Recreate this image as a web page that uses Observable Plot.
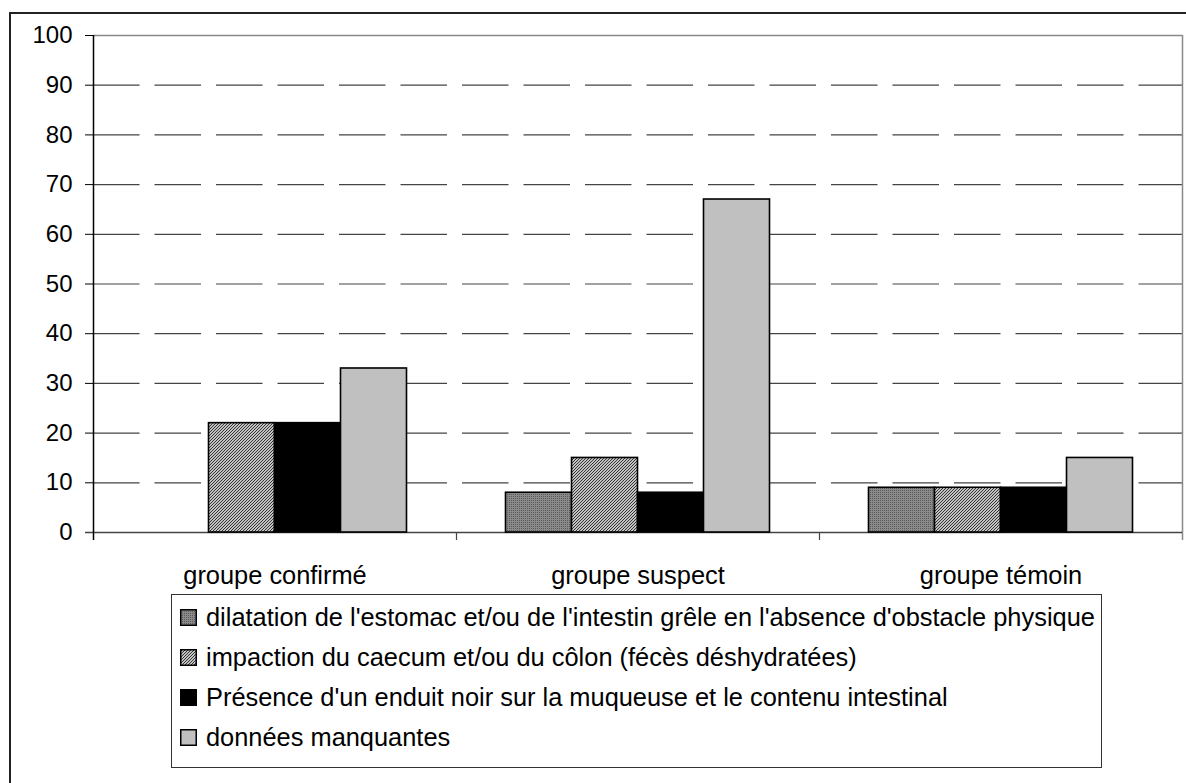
<!DOCTYPE html>
<html><head><meta charset="utf-8">
<script src="https://cdn.jsdelivr.net/npm/d3@7"></script>
<script src="https://cdn.jsdelivr.net/npm/@observablehq/plot@0.6"></script>
<style>
body{margin:0;background:#fff;font-family:"Liberation Sans",Arial,sans-serif;}
#wrap{position:relative;width:1186px;height:783px;overflow:hidden;background:#fff;}
#frame{position:absolute;left:9px;top:12px;width:1200px;height:800px;border-left:2px solid #222;border-top:2px solid #222;z-index:5;pointer-events:none;}
.layer{position:absolute;left:0;top:0;}
#legend{position:absolute;left:171px;top:594px;width:931px;height:174px;border:1.5px solid #333;box-sizing:border-box;}
.row{position:absolute;left:180px;height:40px;display:flex;align-items:center;font-size:25.4px;white-space:nowrap;color:#000;}
.row svg{margin-right:9px;flex:none;}
</style></head>
<body>
<svg width="0" height="0" style="position:absolute">
  <defs>
    <pattern id="pDil" patternUnits="userSpaceOnUse" width="2" height="2">
      <rect width="2" height="2" fill="#8a8a8a"/>
      <rect width="1" height="1" fill="#5c5c5c"/>
    </pattern>
    <pattern id="pImp" patternUnits="userSpaceOnUse" width="3" height="3">
      <rect width="3" height="3" fill="#fff"/>
      <path d="M-1,1 l2,-2 M0,3 l3,-3 M2,4 l2,-2" stroke="#2a2a2a" stroke-width="1.1"/>
    </pattern>
  </defs>
</svg>
<div id="wrap">
  <div id="frame"></div>
  <div id="layerA" class="layer"></div>
  <div id="layerB" class="layer"></div>
  <div id="legend"></div>
</div>
<script>
const groups = ["groupe confirmé", "groupe suspect", "groupe témoin"];
const series = [
  "dilatation de l'estomac et/ou de l'intestin grêle en l'absence d'obstacle physique",
  "impaction du caecum et/ou du côlon (fécès déshydratées)",
  "Présence d'un enduit noir sur la muqueuse et le contenu intestinal",
  "données manquantes"
];
const dilatation = [0, 8, 9];
const impaction = [22, 15, 9];
const presence = [22, 8, 9];
const manquantes = [33, 67, 15];
const yTicks = [0, 10, 20, 30, 40, 50, 60, 70, 80, 90, 100];
const fills = ["url(#pDil)", "url(#pImp)", "#000000", "#c0c0c0"];

const seriesValues = [dilatation, impaction, presence, manquantes];
const table = [];
groups.forEach((g, gi) => series.forEach((s, si) => table.push({group: g, series: s, value: seriesValues[si][gi]})));

const W = 1186, H = 594;
const margins = {marginLeft: 93, marginTop: 35, marginRight: 4, marginBottom: 62};
const font = '"Liberation Sans", Arial, sans-serif';

const layerA = Plot.plot({
  width: W, height: H, ...margins,
  style: {fontSize: "24px", fontFamily: font, color: "#000", background: "none"},
  x: {domain: [0, groups.length], axis: null},
  y: {domain: [0, 100], ticks: yTicks, tickSize: 8, tickPadding: 13, label: null},
  marks: [
    Plot.ruleY(yTicks.filter(t => t > 0 && t < 100), {stroke: "#444", strokeDasharray: "46.5,15", strokeWidth: 1.2}),
    Plot.ruleY([100], {stroke: "#888", strokeWidth: 1.5}),
    Plot.ruleX([groups.length], {stroke: "#888", strokeWidth: 1.5, insetBottom: -8}),
    Plot.ruleX(d3.range(1, groups.length), {y1: 0, y2: 0, insetBottom: -8, stroke: "#444", strokeWidth: 1.2}),
    Plot.ruleY([0], {stroke: "#444", strokeWidth: 1.5, insetLeft: -8}),
    Plot.ruleX([0], {stroke: "#000", strokeWidth: 1.5, insetBottom: -8})
  ]
});
document.getElementById("layerA").appendChild(layerA);

const layerB = Plot.plot({
  width: W, height: H, ...margins,
  style: {fontSize: "25.4px", fontFamily: font, color: "#000", background: "none"},
  fx: {domain: groups, padding: 0, label: null, tickSize: 0, tickPadding: 33, axis: "bottom"},
  x: {domain: series, paddingInner: 0, paddingOuter: 0.75, round: false, axis: null},
  y: {domain: [0, 100], axis: null},
  color: {domain: series, range: fills},
  marks: [
    Plot.barY(table, {fx: "group", x: "series", y: "value", fill: "series", stroke: "#000", strokeWidth: 1.6, filter: d => d.value > 0})
  ]
});
document.getElementById("layerB").appendChild(layerB);

const wrap = document.getElementById("wrap");
const centers = [617.5, 657, 697, 737.5];
series.forEach((s, i) => {
  const row = document.createElement("div");
  row.className = "row";
  row.style.top = (centers[i] - 20) + "px";
  row.innerHTML = `<svg width="17" height="17"><rect x="0.75" y="0.75" width="15.5" height="15.5" fill="${fills[i]}" stroke="#000" stroke-width="1.5"/></svg>`;
  const span = document.createElement("span");
  span.textContent = s;
  row.appendChild(span);
  wrap.appendChild(row);
});
</script>
</body></html>
